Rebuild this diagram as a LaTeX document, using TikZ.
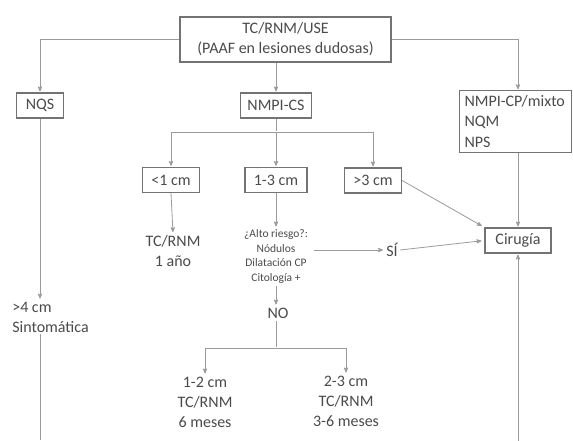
\documentclass[tikz,border=0pt]{standalone}
\usepackage{fontspec}
\setmainfont{Carlito}
\usepackage{tikz}
\usetikzlibrary{arrows,positioning}

\definecolor{lingris}{RGB}{155,155,155}
\definecolor{bordegris}{RGB}{115,115,115}
\definecolor{textogris}{RGB}{75,75,75}

\begin{document}
\begin{tikzpicture}[x=1pt,y=-1pt,>=stealth',shorten >=1pt,semithick]
\tikzstyle{caja} = [draw=bordegris,line width=1.2pt,text=textogris,font=\fontsize{16}{20}\selectfont,inner sep=0pt,minimum height=25pt]
\tikzstyle{txt} = [text=textogris,font=\fontsize{16}{20}\selectfont,align=center,inner sep=2pt]
\tikzstyle{peq} = [text=textogris,font=\fontsize{11.5}{14.5}\selectfont,align=center,inner sep=2pt]
\tikzstyle{flecha} = [->,draw=lingris,line width=0.8pt]
\tikzstyle{linea} = [draw=lingris,line width=0.8pt]
    \useasboundingbox[fill=white] (0,0) rectangle (573,441);

    % cajas
    \node[caja,minimum width=211pt,minimum height=45pt,align=center] (tcrnm) at (285.5,39.5) {TC/RNM/USE\\(PAAF en lesiones dudosas)};
    \node[caja,minimum width=47pt] (nqs) at (40,105.5) {NQS};
    \node[caja,minimum width=71pt] (nmpics) at (276,105.5) {NMPI-CS};
    \node[caja,minimum width=112pt,minimum height=59pt,align=left,text width=102pt,inner sep=5pt] (nmpicp) at (515.5,121.5) {NMPI-CP/mixto\\NQM\\NPS};
    \node[caja,minimum width=57pt] (menos1) at (171,180) {<1 cm};
    \node[caja,minimum width=62pt] (entre13) at (276,180) {1-3 cm};
    \node[caja,minimum width=57pt] (mas3) at (373,180.5) {>3 cm};
    \node[caja,minimum width=66pt] (cir) at (518,240.5) {Cirugía};

    % textos sueltos
    \node[txt] (tc1) at (173,251) {TC/RNM\\1 año};
    \node[peq] (riesgo) at (276,256.5) {¿Alto riesgo?:\\Nódulos\\Dilatación CP\\Citología +};
    \node[txt] (si) at (392,250) {SÍ};
    \node[txt] (no) at (278,313) {NO};
    \node[txt,align=left,anchor=west] (sint) at (10,317) {>4 cm\\Sintomática};
    \node[txt] (a12) at (205,402) {1-2 cm\\TC/RNM\\6 meses};
    \node[txt] (a23) at (346,401) {2-3 cm\\TC/RNM\\3-6 meses};

    \coordinate (rama1) at (276,132);
    \coordinate (rama2) at (276,348);
    \coordinate (abajoL) at (40,441);
    \coordinate (abajoR) at (518,441);

    % conexiones
    \draw[flecha] (tcrnm.west) -| (nqs.north);
    \draw[flecha] (tcrnm.east) -| (cir |- nmpicp.north);
    \draw[flecha] (tcrnm.south -| nmpics) -- (nmpics.north);
    \draw[linea] (nmpics.south) -- (rama1);
    \draw[flecha] (rama1) -| (menos1.north);
    \draw[flecha] (rama1) -- (entre13.north);
    \draw[flecha] (rama1) -| (mas3.north);
    \draw[flecha] (menos1.south) -- (tc1.north);
    \draw[flecha] (entre13.south) -- (riesgo.north);
    \draw[flecha,shorten <=4pt] (riesgo.east |- si.west) -- (si.west);
    \draw[flecha,shorten >=3pt] (si.east) -- (cir.west);
    \draw[flecha,shorten >=3pt] (mas3.east) -- (cir.north west);
    \draw[flecha] (nmpicp.south -| cir) -- (cir.north);
    \draw[flecha] (abajoR) -- (cir.south);
    \draw[flecha] (riesgo.south) -- (no.north -| riesgo);
    \draw[linea] (no.south -| rama2) -- (rama2);
    \draw[flecha] (rama2) -| (a12.north);
    \draw[flecha] (rama2) -| (a23.north);
    \draw[flecha] (nqs.south) -- (nqs.south |- sint.north);
    \draw[linea] (sint.south -| nqs) -- (abajoL);
\end{tikzpicture}
\end{document}
